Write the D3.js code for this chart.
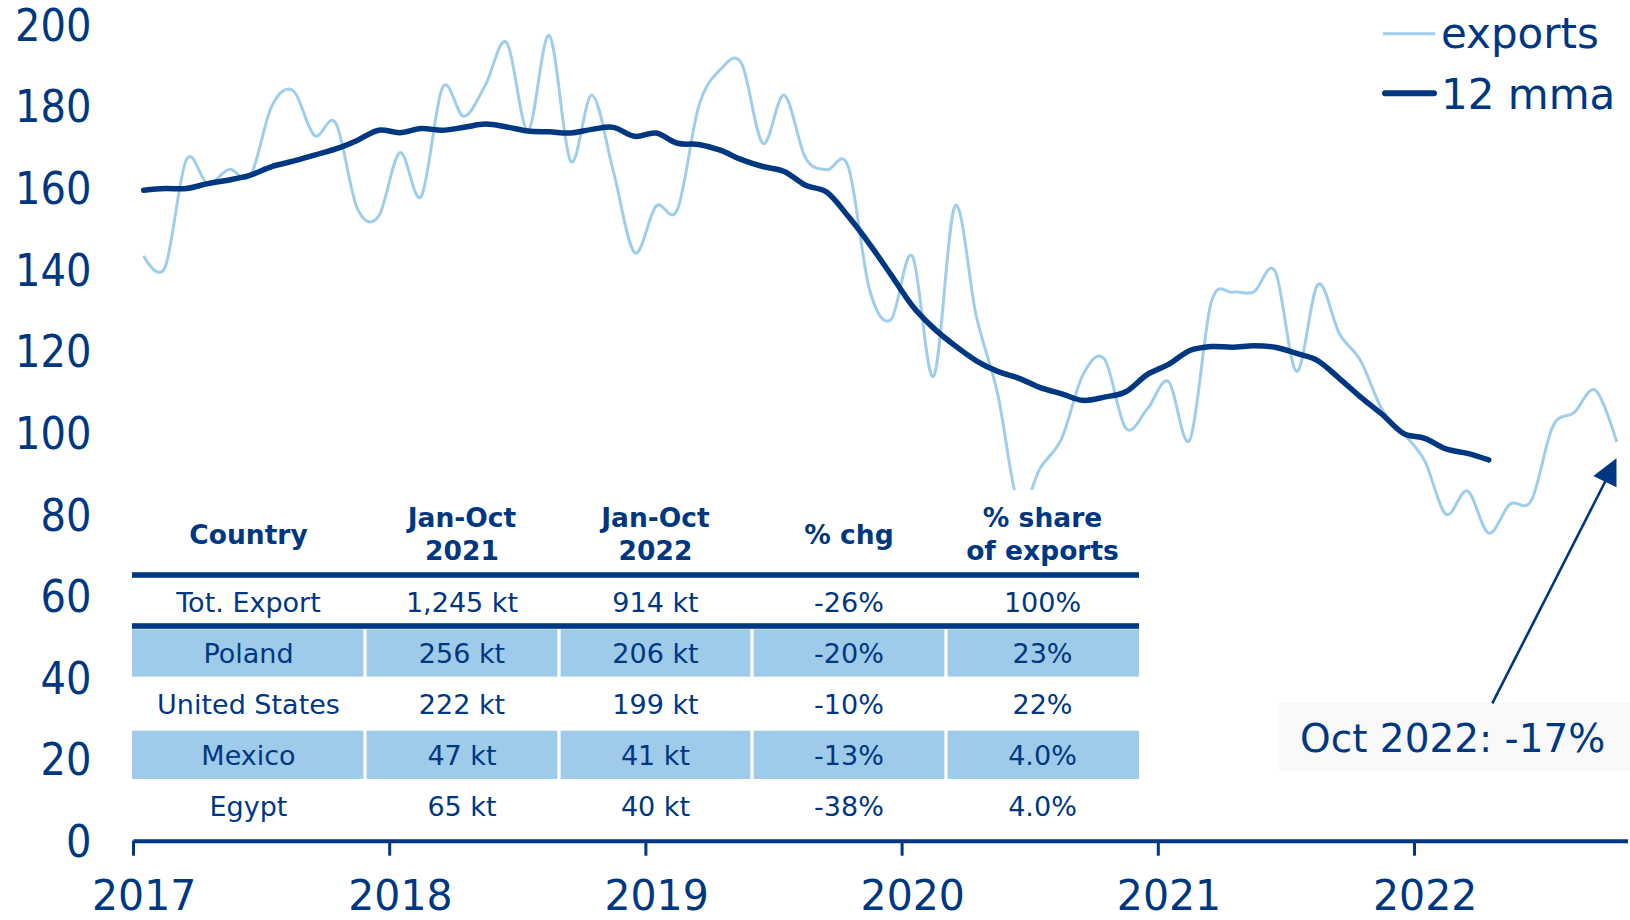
<!DOCTYPE html>
<html><head><meta charset="utf-8">
<script src="https://cdn.jsdelivr.net/npm/d3@7"></script>
<style>
body{margin:0;background:#fff}
svg{display:block}
text{font-family:"DejaVu Sans",Verdana,sans-serif}
</style>
</head><body>
<svg id="c" width="1630" height="920"></svg>
<script>
// ---------------- data ----------------
// monthly exports (kt), Jan 2017 .. Oct 2022
const exportsData = [
  143.3, 140.5, 166.9, 161.0, 164.5, 163.0, 180.0, 183.8, 172.8, 175.8, 155.0, 153.0,
  168.6, 157.9, 184.6, 177.5, 185.1, 195.6, 174.1, 197.3, 166.5, 182.7, 164.0, 144.1,
  155.5, 154.7, 180.0, 188.9, 190.5, 170.9, 182.7, 167.3, 164.4, 165.2, 135.0, 127.7,
  143.3, 113.8, 155.5, 128.5, 109.5, 82.0, 91.4, 98.6, 114.2, 118.0, 101.1, 105.7,
  112.5, 98.2, 131.9, 134.4, 134.5, 139.5, 115.0, 136.3, 124.3, 117.6, 105.7, 99.8,
  93.1, 80.0, 85.7, 75.4, 82.5, 83.4, 101.5, 104.9, 110.4, 97.7
];
// 12 month moving average, Jan 2017 .. Apr 2022
const mmaData = [
  159.4, 159.8, 159.8, 161.0, 161.9, 163.1, 165.2, 166.5, 168.0, 169.5, 171.6, 174.1,
  173.5, 174.5, 174.1, 174.8, 175.6, 174.9, 173.9, 173.7, 173.4, 174.3, 174.8, 172.6,
  173.4, 170.9, 170.6, 169.2, 166.9, 165.2, 164.0, 160.6, 158.9, 153.0, 146.2, 138.7,
  131.1, 125.6, 121.3, 117.6, 115.0, 113.3, 111.0, 109.5, 107.9, 108.7, 110.0, 114.2,
  116.7, 120.1, 121.1, 120.9, 121.3, 120.9, 119.4, 117.6, 113.3, 108.7, 104.5, 99.8,
  98.6, 96.0, 94.9, 93.3
];
const yearLabels = ["2017", "2018", "2019", "2020", "2021", "2022"];
const yTicks = [0, 20, 40, 60, 80, 100, 120, 140, 160, 180, 200];
const legendLabels = ["exports", "12 mma"];
const tableHeaders = [["Country"], ["Jan-Oct", "2021"], ["Jan-Oct", "2022"], ["% chg"], ["% share", "of exports"]];
const tableRows = [
  ["Tot. Export", "1,245 kt", "914 kt", "-26%", "100%"],
  ["Poland", "256 kt", "206 kt", "-20%", "23%"],
  ["United States", "222 kt", "199 kt", "-10%", "22%"],
  ["Mexico", "47 kt", "41 kt", "-13%", "4.0%"],
  ["Egypt", "65 kt", "40 kt", "-38%", "4.0%"]
];
const shadedRows = [false, true, false, true, false];
const annotationText = "Oct 2022: -17%";

// ---------------- style ----------------
const NAVY = "#003781";
const LIGHT = "#9fcdec";
const FILL = "#9ecbe9";

const svg = d3.select("#c");
const nMonths = exportsData.length;

const x = d3.scaleLinear().domain([-0.5, nMonths - 0.5]).range([133, 1627.5]);
const y = d3.scaleLinear().domain([0, 200]).range([840.7, 24.5]);

// ---------------- lines ----------------
const line = d3.line().x((d, i) => x(i)).y(d => y(d)).curve(d3.curveCardinal);

svg.append("path").datum(exportsData).attr("d", line)
  .attr("fill", "none").attr("stroke", LIGHT).attr("stroke-width", 3)
  .attr("stroke-linejoin", "round");
svg.append("path").datum(mmaData).attr("d", line)
  .attr("fill", "none").attr("stroke", NAVY).attr("stroke-width", 5.5)
  .attr("stroke-linecap", "round").attr("stroke-linejoin", "round");

// ---------------- table ----------------
const colEdges = [132, 365, 559, 752, 946, 1139];
const colCenter = c => (colEdges[c] + colEdges[c + 1]) / 2;
const rowCenters = [601.9, 652.8, 703.8, 755.7, 806.7];
const rowBands = [[578, 623], [629.3, 676.6], [676.6, 730.7], [730.7, 779], [779, 830]];

const tbl = svg.append("g");
tbl.append("rect").attr("x", colEdges[0]).attr("y", 490)
  .attr("width", colEdges[5] - colEdges[0]).attr("height", 342).attr("fill", "#fff");

tableRows.forEach((row, r) => {
  if (shadedRows[r]) {
    row.forEach((cell, c) => {
      const x0 = colEdges[c] + (c > 0 ? 1.6 : 0);
      const x1 = colEdges[c + 1] - (c < 4 ? 1.6 : 0);
      tbl.append("rect").attr("x", x0).attr("y", rowBands[r][0])
        .attr("width", x1 - x0).attr("height", rowBands[r][1] - rowBands[r][0])
        .attr("fill", FILL);
    });
  }
});

// thick rules
[575, 626].forEach(yy => {
  tbl.append("rect").attr("x", colEdges[0]).attr("y", yy - 2.8)
    .attr("width", colEdges[5] - colEdges[0]).attr("height", 5.6).attr("fill", NAVY);
});

// header
tableHeaders.forEach((lines, c) => {
  const centers = lines.length === 1 ? [534] : [517.7, 550];
  lines.forEach((t, k) => {
    tbl.append("text").attr("x", colCenter(c)).attr("y", centers[k] + 0.36 * 26.5)
      .attr("text-anchor", "middle").attr("font-size", 26.5).attr("font-weight", "bold")
      .attr("fill", NAVY).text(t);
  });
});

// body
tableRows.forEach((row, r) => {
  row.forEach((cell, c) => {
    tbl.append("text").attr("x", colCenter(c)).attr("y", rowCenters[r] + 0.36 * 27)
      .attr("text-anchor", "middle").attr("font-size", 27)
      .attr("fill", NAVY).text(cell);
  });
});

// ---------------- axes ----------------
const yAxis = d3.axisLeft(y).tickValues(yTicks).tickSize(0).tickPadding(0);
const gy = svg.append("g").attr("transform", "translate(91.5,0)").call(yAxis);
gy.select(".domain").remove();
gy.selectAll("text").attr("fill", NAVY).attr("font-size", 44)
  .attr("font-family", '"DejaVu Sans",Verdana,sans-serif')
  .attr("x", 0).attr("dy", "0.36em").attr("transform", "scale(0.91,1)");

const boundaries = yearLabels.map((d, k) => k * 12 - 0.5);
const xAxis = d3.axisBottom(x).tickValues(boundaries).tickFormat("").tickSize(15).tickSizeOuter(0);
const gx = svg.append("g").attr("transform", "translate(0,840.7)").call(xAxis);
gx.select(".domain").attr("stroke", NAVY).attr("stroke-width", 4);
gx.selectAll(".tick line").attr("stroke", NAVY).attr("stroke-width", 3);

const xLab = d3.axisBottom(x).tickValues(yearLabels.map((d, k) => k * 12))
  .tickFormat((d, k) => yearLabels[k]).tickSize(0).tickPadding(39.5);
const gxl = svg.append("g").attr("transform", "translate(0,840.7)").call(xLab);
gxl.select(".domain").remove();
gxl.selectAll("text").attr("fill", NAVY).attr("font-size", 42.5)
  .attr("font-family", '"DejaVu Sans",Verdana,sans-serif')
  .attr("transform", "scale(0.965,1)");

// ---------------- legend ----------------
const leg = svg.append("g");
const legY = [33.8, 93.3];
const legBase = [48.2, 108.8];
leg.append("line").attr("x1", 1383).attr("x2", 1435).attr("y1", legY[0]).attr("y2", legY[0])
  .attr("stroke", LIGHT).attr("stroke-width", 3);
leg.append("line").attr("x1", 1385).attr("x2", 1434).attr("y1", legY[1]).attr("y2", legY[1])
  .attr("stroke", NAVY).attr("stroke-width", 6).attr("stroke-linecap", "round");
legendLabels.forEach((t, k) => {
  leg.append("text").attr("x", 1441).attr("y", legBase[k]).attr("font-size", 42)
    .attr("fill", NAVY).text(t);
});

// ---------------- annotation ----------------
const ann = svg.append("g");
ann.append("rect").attr("x", 1279).attr("y", 703).attr("width", 351).attr("height", 68)
  .attr("fill", "#f9f9f9");
ann.append("text").attr("x", 1300).attr("y", 751.7).attr("font-size", 39)
  .attr("fill", NAVY).text(annotationText);
ann.append("line").attr("x1", 1492.3).attr("y1", 703.3).attr("x2", 1606).attr("y2", 480)
  .attr("stroke", NAVY).attr("stroke-width", 2.6);
ann.append("polygon").attr("points", "1593.3,476 1616.5,458.3 1616.5,487.3").attr("fill", NAVY);
</script>
</body></html>
